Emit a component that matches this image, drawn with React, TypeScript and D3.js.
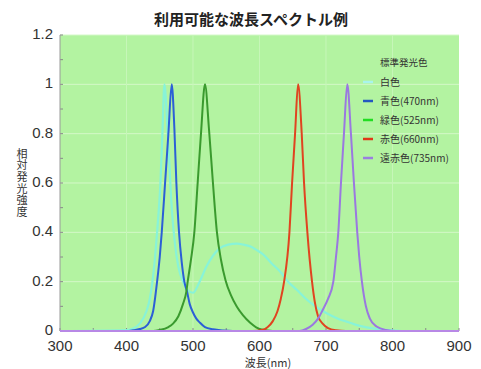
import React from "react";
import * as d3 from "d3";

// wavelength (nm) / relative intensity
const whiteNm = [300, 400, 410, 420, 430, 435, 439, 443, 446, 451, 454, 457, 461, 464, 468, 473, 478, 485, 492, 500, 510, 520, 530, 540, 553, 566, 576, 586, 596, 606, 618, 631, 643, 656, 668, 681, 693, 706, 718, 731, 743, 756, 768, 781, 800, 820, 900];
const whiteVal = [0, 0.004, 0.01, 0.03, 0.08, 0.13, 0.2, 0.3, 0.4, 0.6, 0.8, 1.0, 0.85, 0.7, 0.5, 0.35, 0.26, 0.2, 0.165, 0.155, 0.2, 0.26, 0.305, 0.335, 0.35, 0.354, 0.35, 0.343, 0.328, 0.309, 0.275, 0.241, 0.2, 0.167, 0.135, 0.106, 0.084, 0.065, 0.05, 0.038, 0.027, 0.018, 0.012, 0.007, 0.003, 0, 0];

const blueNm = [300, 400, 410, 420, 428, 435, 440, 446, 450, 453, 458, 463, 468, 472, 475, 479, 483, 487, 491, 495, 500, 505, 510, 518, 530, 545, 560, 900];
const blueVal = [0, 0, 0.003, 0.008, 0.016, 0.04, 0.08, 0.2, 0.3, 0.4, 0.6, 0.8, 1.0, 0.82, 0.6, 0.4, 0.28, 0.2, 0.16, 0.11, 0.075, 0.05, 0.035, 0.016, 0.007, 0.002, 0, 0];

const greenNm = [300, 440, 450, 463, 470, 478, 485, 490, 492, 497, 502, 507, 512, 518, 524, 530, 536, 542, 549, 557, 566, 575, 586, 595, 603, 620, 900];
const greenVal = [0, 0, 0.004, 0.016, 0.03, 0.06, 0.11, 0.16, 0.2, 0.29, 0.4, 0.6, 0.8, 1.0, 0.82, 0.6, 0.4, 0.29, 0.205, 0.145, 0.098, 0.064, 0.033, 0.015, 0.006, 0, 0];

const redNm = [300, 590, 605, 612, 620, 627, 632, 637, 645, 649, 653.5, 658, 663.5, 667, 672, 679, 683, 688, 695, 703, 715, 730, 900];
const redVal = [0, 0, 0.005, 0.015, 0.04, 0.08, 0.13, 0.2, 0.4, 0.6, 0.8, 1.0, 0.8, 0.6, 0.4, 0.2, 0.12, 0.06, 0.03, 0.012, 0.003, 0, 0];

const farRedNm = [300, 660, 670, 680, 688, 695, 703, 711, 715, 718.5, 722.5, 727, 732, 737.5, 742, 747, 750, 754, 760, 766, 776, 790, 805, 900];
const farRedVal = [0, 0, 0.008, 0.025, 0.05, 0.085, 0.13, 0.2, 0.3, 0.4, 0.6, 0.8, 1.0, 0.8, 0.6, 0.4, 0.3, 0.2, 0.1, 0.05, 0.018, 0.004, 0, 0];

const legendLabels = ["白色", "青色(470nm)", "緑色(525nm)", "赤色(660nm)", "遠赤色(735nm)"];
const xTicks = [300, 400, 500, 600, 700, 800, 900];
const yTicks = [0, 0.2, 0.4, 0.6, 0.8, 1, 1.2];

const series = [
  { nm: whiteNm, val: whiteVal, color: "#88f3d8", legend: "#a8f4ec", w: 2.2 },
  { nm: blueNm, val: blueVal, color: "#2c5fd6", legend: "#2458c0", w: 2 },
  { nm: greenNm, val: greenVal, color: "#3a9a2e", legend: "#22dd22", w: 2 },
  { nm: redNm, val: redVal, color: "#e04420", legend: "#e03818", w: 2 },
  { nm: farRedNm, val: farRedVal, color: "#9a78e0", legend: "#9a7ee0", w: 2 },
];

const font = "'Noto Sans CJK JP', 'Noto Sans', sans-serif";
const numFont = "'Liberation Sans', Arial, sans-serif";

export default function App() {
  const left = 60, right = 459, top = 35, bottom = 331;
  const x = d3.scaleLinear().domain([300, 900]).range([left, right]);
  const y = d3.scaleLinear().domain([0, 1.2]).range([bottom, top]);
  const line = d3
    .line<[number, number]>()
    .x((d) => x(d[0]))
    .y((d) => y(d[1]))
    .curve(d3.curveMonotoneX);

  const minorY = d3.range(0, 1.21, 0.1);
  const minorX = d3.range(300, 901, 50);

  return (
    <svg width={481} height={369} style={{ position: "absolute", left: 0, top: 0, background: "#fff" }}>
      <text x={251} y={25} textAnchor="middle" fontFamily={font} fontSize={15} fontWeight="bold" fill="#222">
        利用可能な波長スペクトル例
      </text>
      <rect x={left} y={top} width={right - left} height={bottom - top} fill="#b3f3a1" />
      {yTicks.slice(1).map((t) => (
        <line key={"gy" + t} x1={left} x2={right} y1={y(t)} y2={y(t)} stroke="#d4f8c8" strokeWidth={1} />
      ))}
      {xTicks.slice(1, -1).map((t) => (
        <line key={"gx" + t} x1={x(t)} x2={x(t)} y1={top} y2={bottom} stroke="#c6f6b8" strokeWidth={1} />
      ))}
      {minorY.map((t) => (
        <line key={"my" + t} x1={left} x2={left + 3} y1={y(t)} y2={y(t)} stroke="#888" strokeWidth={1} />
      ))}
      {minorX.map((t) => (
        <line key={"mx" + t} x1={x(t)} x2={x(t)} y1={bottom} y2={bottom - 3} stroke="#888" strokeWidth={1} />
      ))}
      <line x1={left} x2={left} y1={top} y2={bottom} stroke="#999" strokeWidth={1} />
      {series.map((s, i) => (
        <path
          key={i}
          d={line(s.nm.map((n, j) => [n, s.val[j]] as [number, number])) || ""}
          fill="none"
          stroke={s.color}
          strokeWidth={s.w}
        />
      ))}
      <line x1={left} x2={right} y1={bottom} y2={bottom} stroke="#b888e6" strokeWidth={2} />
      {yTicks.map((t) => (
        <text key={"yl" + t} x={53} y={y(t) + 4} textAnchor="end" fontFamily={numFont} fontSize={15} fill="#333">
          {t}
        </text>
      ))}
      {xTicks.map((t) => (
        <text key={"xl" + t} x={x(t)} y={351} textAnchor="middle" fontFamily={numFont} fontSize={15} fill="#333">
          {t}
        </text>
      ))}
      <text x={268} y={367} textAnchor="middle" fontFamily={font} fontSize={11} fill="#333">
        波長(nm)
      </text>
      <text
        x={22}
        y={148}
        fontFamily={font}
        fontSize={11}
        fill="#333"
        letterSpacing={0.7}
        style={{ writingMode: "vertical-rl", textOrientation: "upright" }}
      >
        相対発光強度
      </text>
      <text x={380} y={66} fontFamily={font} fontSize={9.5} fill="#333">
        標準発光色
      </text>
      {legendLabels.map((lab, i) => (
        <g key={lab} transform={`translate(0,${82 + i * 19})`}>
          <line x1={363} x2={373} y1={0} y2={0} stroke={series[i].legend} strokeWidth={2.5} />
          <text x={380} y={3.5} fontFamily={font} fontSize={10} fill="#333">
            {lab}
          </text>
        </g>
      ))}
    </svg>
  );
}
